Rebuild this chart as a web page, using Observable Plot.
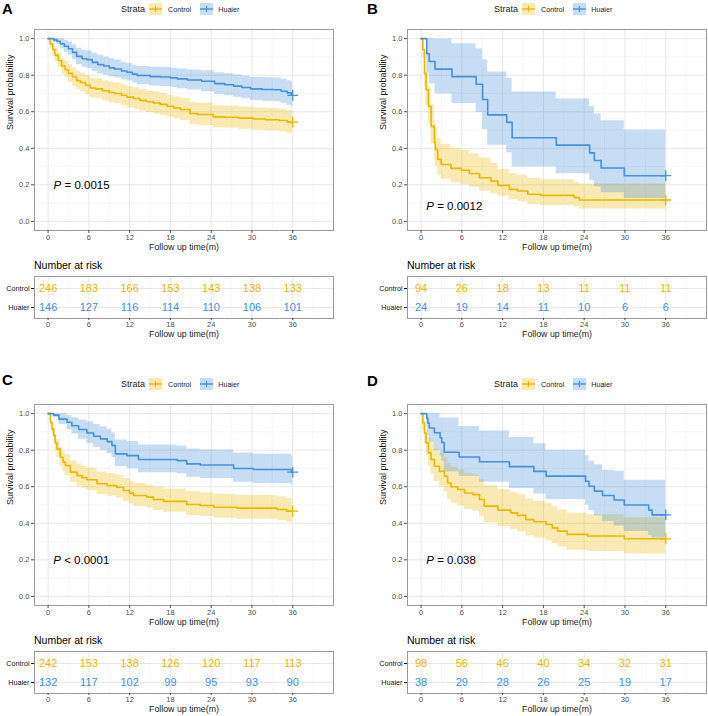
<!DOCTYPE html>
<html><head><meta charset="utf-8">
<script src="https://cdn.jsdelivr.net/npm/d3@7"></script>
<script src="https://cdn.jsdelivr.net/npm/@observablehq/plot@0.6"></script>
<style>
body{margin:0;background:#fff;font-family:"Liberation Sans",Arial,Helvetica,sans-serif;}
#root{position:relative;width:708px;height:716px;overflow:hidden;background:#fff;}
.abs{position:absolute;}
.letter{font-weight:bold;font-size:15px;line-height:15px;color:#000;}
.legend{display:flex;align-items:center;height:14px;color:#1a1a1a;white-space:nowrap;}
.legend .ttl{font-size:9px;margin-right:4px;}
.legend .lab{font-size:7.2px;}
.nar{font-size:10.5px;line-height:14px;color:#000;white-space:nowrap;}
</style></head><body><div id="root"></div>
<script>
// ---------- data ----------
const groups = ["Control", "Huaier"];
const timeTicks = [0, 6, 12, 18, 24, 30, 36];
const timeMinor = [3, 9, 15, 21, 27, 33, 39];
const survTicks = [0, 0.2, 0.4, 0.6, 0.8, 1.0];
const survMinor = [0.1, 0.3, 0.5, 0.7, 0.9];
const riskTimes = [0, 6, 12, 18, 24, 30, 36];

// [time, survival, lower, upper]
const A_control = [
 [0,1,1,1],[0.3,0.97,0.95,0.99],[0.7,0.94,0.91,0.97],[1.0,0.91,0.875,0.945],[1.5,0.88,0.84,0.92],
 [2.0,0.85,0.806,0.894],[2.5,0.83,0.784,0.876],[3.0,0.81,0.762,0.858],[3.6,0.79,0.74,0.84],
 [4.2,0.77,0.72,0.82],[4.8,0.76,0.708,0.812],[5.5,0.745,0.692,0.798],[6.2,0.73,0.676,0.784],
 [7.0,0.725,0.67,0.78],[8.0,0.715,0.66,0.77],[9.0,0.705,0.648,0.762],[9.8,0.70,0.643,0.757],
 [10.8,0.69,0.632,0.748],[11.6,0.68,0.622,0.738],[12.6,0.672,0.613,0.731],[13.5,0.662,0.603,0.721],
 [14.5,0.655,0.596,0.714],[15.5,0.648,0.588,0.708],[16.5,0.64,0.58,0.70],[17.5,0.63,0.57,0.69],
 [18.5,0.62,0.56,0.68],[19.5,0.612,0.552,0.672],[20.9,0.59,0.53,0.65],[22.0,0.585,0.524,0.646],
 [24.3,0.572,0.511,0.633],[26.0,0.57,0.509,0.631],[28.0,0.565,0.504,0.626],[30.2,0.56,0.499,0.621],
 [32.0,0.556,0.495,0.617],[34.0,0.552,0.49,0.614],[35.2,0.543,0.482,0.605],[36,0.543,0.482,0.605]
];
const A_huaier = [
 [0,1,1,1],[0.8,0.993,0.979,1],[1.3,0.986,0.966,1],[1.8,0.972,0.945,0.999],[2.4,0.958,0.926,0.99],
 [3.0,0.945,0.909,0.981],[3.6,0.925,0.884,0.966],[4.2,0.903,0.858,0.948],[5.0,0.89,0.843,0.937],
 [5.7,0.885,0.837,0.933],[6.5,0.87,0.82,0.92],[7.3,0.858,0.807,0.909],[8.2,0.85,0.80,0.90],
 [9.0,0.84,0.79,0.89],[9.8,0.834,0.785,0.883],[10.8,0.823,0.775,0.871],[11.6,0.816,0.768,0.864],
 [12.4,0.806,0.757,0.855],[13.1,0.798,0.748,0.848],[15.0,0.792,0.741,0.843],[16.5,0.79,0.738,0.842],
 [18.0,0.785,0.732,0.838],[19.0,0.78,0.726,0.834],[20.5,0.774,0.719,0.829],[22.6,0.767,0.71,0.824],
 [24.5,0.754,0.695,0.813],[26.0,0.748,0.688,0.808],[27.3,0.74,0.679,0.801],[28.5,0.733,0.671,0.795],
 [29.8,0.725,0.662,0.788],[31.5,0.722,0.658,0.786],[33.2,0.72,0.655,0.785],[34.3,0.712,0.646,0.778],
 [35.2,0.703,0.636,0.77],[35.8,0.69,0.624,0.765],[36,0.69,0.624,0.765]
];
const B_control = [
 [0,1,1,1],[0.24,0.94,0.893,0.99],[0.5,0.81,0.735,0.893],[0.73,0.72,0.635,0.816],[1.08,0.63,0.538,0.738],
 [1.47,0.52,0.424,0.638],[1.96,0.43,0.337,0.549],[2.1,0.393,0.30,0.51],[2.45,0.339,0.254,0.452],
 [2.95,0.311,0.23,0.421],[4.4,0.29,0.21,0.40],[5.9,0.28,0.201,0.389],[7.1,0.262,0.185,0.37],
 [8.6,0.239,0.165,0.345],[10.3,0.22,0.15,0.318],[11.3,0.197,0.138,0.284],[13.0,0.175,0.118,0.262],
 [14.2,0.166,0.108,0.252],[15.7,0.148,0.092,0.236],[17.6,0.142,0.087,0.228],[22.5,0.13,0.078,0.214],
 [23.3,0.117,0.068,0.205],[36,0.117,0.068,0.205]
];
const B_huaier = [
 [0,1,1,1],[0.83,0.917,0.813,1],[1.2,0.875,0.752,1],[2.05,0.833,0.697,0.996],[4.55,0.792,0.645,0.972],
 [8.1,0.75,0.596,0.944],[9.05,0.667,0.503,0.885],[9.8,0.583,0.416,0.818],[12.6,0.542,0.375,0.783],
 [13.4,0.458,0.297,0.708],[19.9,0.417,0.26,0.669],[24.8,0.375,0.224,0.628],[25.5,0.333,0.189,0.587],
 [26.5,0.292,0.156,0.55],[29.9,0.25,0.125,0.50],[36,0.25,0.125,0.50]
];
const C_control = [
 [0,1,1,1],[0.34,0.953,0.927,0.98],[0.6,0.915,0.882,0.95],[0.83,0.88,0.84,0.922],[1.05,0.84,0.795,0.888],
 [1.3,0.807,0.759,0.858],[1.8,0.761,0.709,0.816],[2.2,0.735,0.681,0.793],[2.54,0.716,0.661,0.775],
 [3.28,0.68,0.623,0.741],[4.26,0.661,0.603,0.724],[5.0,0.65,0.592,0.713],[5.7,0.638,0.58,0.702],
 [7.2,0.616,0.557,0.681],[8.7,0.607,0.548,0.672],[10.1,0.597,0.538,0.663],[11.1,0.579,0.519,0.645],
 [12.0,0.565,0.505,0.632],[12.6,0.552,0.492,0.619],[14.5,0.543,0.483,0.61],[15.5,0.53,0.47,0.598],
 [17.0,0.52,0.46,0.588],[20.4,0.503,0.443,0.572],[22.4,0.497,0.437,0.566],[24.4,0.488,0.427,0.557],
 [27.8,0.483,0.422,0.552],[33.7,0.475,0.414,0.545],[35.1,0.466,0.405,0.536],[36,0.466,0.405,0.536]
];
const C_huaier = [
 [0,1,1,1],[0.8,0.992,0.977,1],[1.6,0.97,0.941,0.999],[2.8,0.953,0.912,0.99],[3.5,0.934,0.888,0.978],
 [4.5,0.913,0.86,0.965],[5.7,0.894,0.835,0.955],[6.7,0.876,0.814,0.94],[7.7,0.862,0.798,0.928],
 [8.7,0.847,0.782,0.915],[9.4,0.825,0.758,0.894],[9.9,0.78,0.71,0.856],[11.6,0.77,0.699,0.848],
 [13.3,0.749,0.677,0.828],[19.0,0.743,0.671,0.823],[20.4,0.725,0.652,0.806],[22.4,0.719,0.645,0.801],
 [27.3,0.70,0.625,0.784],[30.2,0.694,0.618,0.778],[35.8,0.68,0.608,0.768],[36,0.68,0.608,0.768]
];
const D_control = [
 [0,1,1,1],[0.24,0.95,0.908,0.994],[0.5,0.894,0.835,0.957],[0.73,0.84,0.772,0.914],[1.08,0.785,0.71,0.868],
 [1.47,0.749,0.669,0.838],[1.96,0.712,0.628,0.807],[2.7,0.685,0.599,0.783],[3.43,0.658,0.57,0.759],
 [3.9,0.62,0.53,0.725],[4.4,0.60,0.51,0.706],[5.4,0.585,0.495,0.692],[6.4,0.566,0.475,0.674],
 [7.6,0.557,0.466,0.665],[8.6,0.53,0.439,0.64],[9.3,0.494,0.403,0.605],[11.3,0.472,0.382,0.584],
 [13.2,0.457,0.367,0.569],[14.2,0.443,0.353,0.556],[15.4,0.42,0.331,0.533],[16.6,0.408,0.319,0.521],
 [18.4,0.393,0.305,0.507],[19.3,0.375,0.287,0.49],[20.1,0.357,0.27,0.472],[21.5,0.339,0.253,0.455],
 [24.5,0.33,0.245,0.446],[29.9,0.315,0.232,0.43],[36,0.315,0.232,0.43]
];
const D_huaier = [
 [0,1,1,1],[0.83,0.974,0.924,1],[1.0,0.947,0.879,1],[1.2,0.921,0.84,1],[1.96,0.895,0.80,1],
 [2.8,0.868,0.77,0.976],[3.04,0.842,0.74,0.976],[3.4,0.789,0.68,0.976],[5.6,0.763,0.658,0.93],
 [8.6,0.737,0.625,0.905],[13.0,0.71,0.59,0.87],[16.6,0.684,0.56,0.835],[18.4,0.658,0.53,0.80],
 [24.2,0.63,0.50,0.77],[24.7,0.603,0.47,0.74],[25.5,0.576,0.44,0.72],[26.7,0.552,0.41,0.69],
 [28.4,0.527,0.385,0.685],[29.9,0.50,0.355,0.636],[33.5,0.472,0.335,0.636],[34.0,0.446,0.32,0.636],
 [36,0.446,0.32,0.636]
];

const A_riskControl = [246, 183, 166, 153, 143, 138, 133];
const A_riskHuaier  = [146, 127, 116, 114, 110, 106, 101];
const B_riskControl = [94, 26, 18, 13, 11, 11, 11];
const B_riskHuaier  = [24, 19, 14, 11, 10, 6, 6];
const C_riskControl = [242, 153, 138, 126, 120, 117, 113];
const C_riskHuaier  = [132, 117, 102, 99, 95, 93, 90];
const D_riskControl = [98, 56, 46, 40, 34, 32, 31];
const D_riskHuaier  = [38, 29, 28, 26, 25, 19, 17];

const pTexts = ["= 0.0015", "= 0.0012", "< 0.0001", "= 0.038"];

// ---------- styling ----------
const YEL = "#E7B800", BLU = "#4590DC";
const FONT = '"Liberation Sans", Arial, Helvetica, sans-serif';

const panels = [
  {letter:"A", ox:0,   oy:0,   lx:2,   ly:1,   ctrl:A_control, hua:A_huaier, rc:A_riskControl, rh:A_riskHuaier, p:pTexts[0], pX:0.8, pY:0.2},
  {letter:"B", ox:373, oy:0,   lx:367, ly:1,   ctrl:B_control, hua:B_huaier, rc:B_riskControl, rh:B_riskHuaier, p:pTexts[1], pX:0.75, pY:0.08},
  {letter:"C", ox:0,   oy:375, lx:2,   ly:372, ctrl:C_control, hua:C_huaier, rc:C_riskControl, rh:C_riskHuaier, p:pTexts[2], pX:0.75, pY:0.2},
  {letter:"D", ox:373, oy:375, lx:367, ly:373, ctrl:D_control, hua:D_huaier, rc:D_riskControl, rh:D_riskHuaier, p:pTexts[3], pX:0.75, pY:0.2}
];

const root = document.getElementById("root");
function place(el, x, y) { el.classList.add("abs"); el.style.left = x + "px"; el.style.top = y + "px"; root.appendChild(el); return el; }
function div(cls, html) { const d = document.createElement("div"); d.className = cls; d.innerHTML = html; return d; }

function toRows(arr, g) { return arr.map(([t, s, lo, hi]) => ({t, s, lo, hi, g})); }

function keySvg(color) {
  return `<svg width="13" height="12" style="display:block"><rect x="0" y="0" width="13" height="12" fill="${color}" fill-opacity="0.3"/>` +
    `<line x1="0" x2="13" y1="6" y2="6" stroke="${color}" stroke-width="1.4"/>` +
    `<line x1="6.5" x2="6.5" y1="3" y2="9" stroke="${color}" stroke-width="1.2"/></svg>`;
}

function kmChart(p) {
  const data = [...toRows(p.ctrl, "Control"), ...toRows(p.hua, "Huaier")];
  const ends = groups.map(g => data.filter(d => d.g === g).at(-1));
  return Plot.plot({
    width: 335, height: 235, marginLeft: 34, marginRight: 2, marginTop: 9, marginBottom: 25,
    style: {fontFamily: FONT, background: "transparent", color: "#4d4d4d", overflow: "visible"},
    x: {domain: [-2, 42]},
    y: {domain: [-0.05, 1.05]},
    color: {domain: groups, range: [YEL, BLU]},
    marks: [
      Plot.gridX(timeMinor, {stroke: "#f2f2f2", strokeOpacity: 1, strokeWidth: 0.6}),
      Plot.gridY(survMinor, {stroke: "#f2f2f2", strokeOpacity: 1, strokeWidth: 0.6}),
      Plot.gridX(timeTicks, {stroke: "#e4e4e4", strokeOpacity: 1, strokeWidth: 0.9}),
      Plot.gridY(survTicks, {stroke: "#e4e4e4", strokeOpacity: 1, strokeWidth: 0.9}),
      Plot.areaY(data, {x: "t", y1: "lo", y2: "hi", fill: "g", fillOpacity: 0.3, curve: "step-after"}),
      Plot.line(data, {x: "t", y: "s", stroke: "g", strokeWidth: 1.6, curve: "step-after"}),
      Plot.dot(ends, {x: "t", y: "s", stroke: "g", symbol: "plus", r: 3.6, strokeWidth: 1.3}),
      Plot.frame({stroke: "#9a9a9a", strokeWidth: 1}),
      Plot.axisX(timeTicks, {tickSize: 3, tickPadding: 1.5, fontSize: 7.5, label: null}),
      Plot.axisY(survTicks, {tickSize: 3, tickPadding: 2, fontSize: 7.5, label: null, tickFormat: d3.format(".1f")}),
      Plot.text([{x: p.pX, y: p.pY}], {x: "x", y: "y", text: () => "P", fontStyle: "italic", fontSize: 11.5, textAnchor: "start", fill: "#000"}),
      Plot.text([{x: p.pX, y: p.pY}], {x: "x", y: "y", text: () => p.p, dx: 11, fontSize: 11.5, textAnchor: "start", fill: "#000"}),
      Plot.text(["Survival probability"], {text: d => d, frameAnchor: "left", dx: -24, rotate: -90, fontSize: 9, fill: "#1a1a1a"}),
      Plot.text(["Follow up time(m)"], {text: d => d, frameAnchor: "bottom", dy: 19, fontSize: 8.8, fill: "#1a1a1a"})
    ]
  });
}

function riskChart(p) {
  const rows = [];
  riskTimes.forEach((t, i) => {
    rows.push({t, g: "Control", n: p.rc[i]});
    rows.push({t, g: "Huaier", n: p.rh[i]});
  });
  return Plot.plot({
    width: 335, height: 70, marginLeft: 34, marginRight: 2, marginTop: 6, marginBottom: 22,
    style: {fontFamily: FONT, background: "transparent", color: "#4d4d4d", overflow: "visible"},
    x: {domain: [-2, 42]},
    y: {type: "point", domain: groups, padding: 0.6},
    color: {domain: groups, range: [YEL, BLU]},
    marks: [
      Plot.gridX(timeMinor, {stroke: "#f2f2f2", strokeOpacity: 1, strokeWidth: 0.6}),
      Plot.gridX(timeTicks, {stroke: "#e4e4e4", strokeOpacity: 1, strokeWidth: 0.9}),
      Plot.gridY(groups, {stroke: "#e4e4e4", strokeOpacity: 1, strokeWidth: 0.9}),
      Plot.frame({stroke: "#9a9a9a", strokeWidth: 1}),
      Plot.axisX(timeTicks, {tickSize: 2, tickPadding: 1, fontSize: 7.5, label: null}),
      Plot.axisY(groups, {tickSize: 3, tickPadding: 2, fontSize: 7.2, label: null, color: "#111"}),
      Plot.text(rows, {x: "t", y: "g", text: "n", fill: "g", fontSize: 11}),
      Plot.text(["Follow up time(m)"], {text: d => d, frameAnchor: "bottom", dy: 18, fontSize: 8.8, fill: "#1a1a1a"})
    ]
  });
}

for (const p of panels) {
  place(div("letter", p.letter), p.lx, p.ly);
  const leg = div("legend",
    `<span class="ttl">Strata</span>${keySvg(YEL)}<span class="lab" style="margin:0 9px 0 6px">Control</span>${keySvg(BLU)}<span class="lab" style="margin-left:5px">Huaier</span>`);
  place(leg, p.ox + 121, p.oy + 2);
  const km = document.createElement("div");
  km.appendChild(kmChart(p));
  place(km, p.ox, p.oy + 20);
  place(div("nar", "Number at risk"), p.ox + 34, p.oy + 258);
  const rk = document.createElement("div");
  rk.appendChild(riskChart(p));
  place(rk, p.ox, p.oy + 270);
}
</script></body></html>
